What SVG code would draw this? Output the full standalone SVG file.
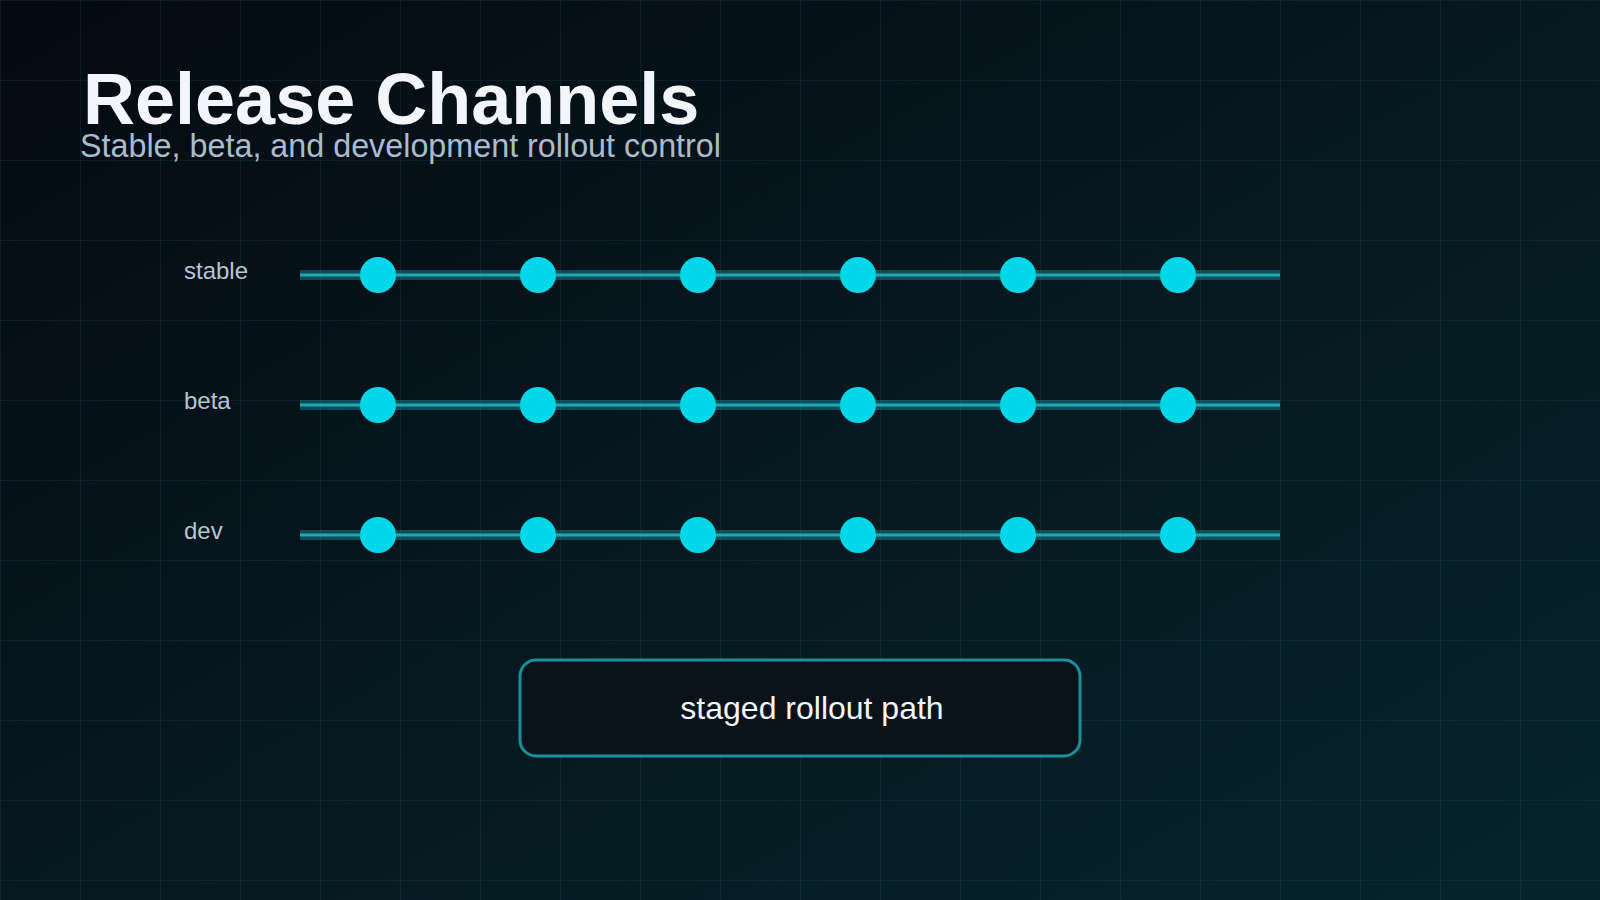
<svg xmlns="http://www.w3.org/2000/svg" width="1600" height="900" viewBox="0 0 1600 900">
<defs>
<linearGradient id="bg" x1="0" y1="0" x2="1" y2="1">
<stop offset="0" stop-color="#050a11"/>
<stop offset="0.5" stop-color="#061820"/>
<stop offset="1" stop-color="#06242b"/>
</linearGradient>
<pattern id="grid" width="80" height="80" patternUnits="userSpaceOnUse">
<path d="M0 0.5H80M0.5 0V80" fill="none" stroke="#2a6f78" stroke-opacity="0.16" stroke-width="1"/>
</pattern>
<style>
.title{font-family:"Liberation Sans",Arial,sans-serif;font-weight:700;font-size:72px;fill:#f2f6fb}
.sub{font-family:"Liberation Sans",Arial,sans-serif;font-size:32.3px;fill:#a9bccd}
.lab{font-family:"Liberation Sans",Arial,sans-serif;font-size:24px;fill:#b6c6d4}
.halo{stroke:#1a8f9b;stroke-opacity:0.45;stroke-width:10}
.core{stroke:#1fa9b5;stroke-width:3}
.dot{fill:#00d8ea}
.box{fill:#0a131b;stroke:#1a909c;stroke-width:3}
.boxt{font-family:"Liberation Sans",Arial,sans-serif;font-size:32px;fill:#f2f6fb;text-anchor:middle}
</style>
</defs>
<rect width="1600" height="900" fill="url(#bg)"/>
<rect width="1600" height="900" fill="url(#grid)"/>
<text class="title" x="83" y="124">Release Channels</text>
<text class="sub" x="80" y="157">Stable, beta, and development rollout control</text>
<g id="connectors">
<line class="halo" x1="300" y1="275" x2="1280" y2="275"/>
<line class="core" x1="300" y1="275" x2="1280" y2="275"/>
<line class="halo" x1="300" y1="405" x2="1280" y2="405"/>
<line class="core" x1="300" y1="405" x2="1280" y2="405"/>
<line class="halo" x1="300" y1="535" x2="1280" y2="535"/>
<line class="core" x1="300" y1="535" x2="1280" y2="535"/>
</g>
<g id="lane-stable">
<text class="lab" x="184" y="279">stable</text>
<circle class="dot" cx="378" cy="275" r="18"/><circle class="dot" cx="538" cy="275" r="18"/><circle class="dot" cx="698" cy="275" r="18"/><circle class="dot" cx="858" cy="275" r="18"/><circle class="dot" cx="1018" cy="275" r="18"/><circle class="dot" cx="1178" cy="275" r="18"/>
</g>
<g id="lane-beta">
<text class="lab" x="184" y="409">beta</text>
<circle class="dot" cx="378" cy="405" r="18"/><circle class="dot" cx="538" cy="405" r="18"/><circle class="dot" cx="698" cy="405" r="18"/><circle class="dot" cx="858" cy="405" r="18"/><circle class="dot" cx="1018" cy="405" r="18"/><circle class="dot" cx="1178" cy="405" r="18"/>
</g>
<g id="lane-dev">
<text class="lab" x="184" y="539">dev</text>
<circle class="dot" cx="378" cy="535" r="18"/><circle class="dot" cx="538" cy="535" r="18"/><circle class="dot" cx="698" cy="535" r="18"/><circle class="dot" cx="858" cy="535" r="18"/><circle class="dot" cx="1018" cy="535" r="18"/><circle class="dot" cx="1178" cy="535" r="18"/>
</g>
<g id="rollout-box">
<rect class="box" x="520" y="660" width="560" height="96" rx="16"/>
<text class="boxt" x="812" y="719">staged rollout path</text>
</g>
</svg>
